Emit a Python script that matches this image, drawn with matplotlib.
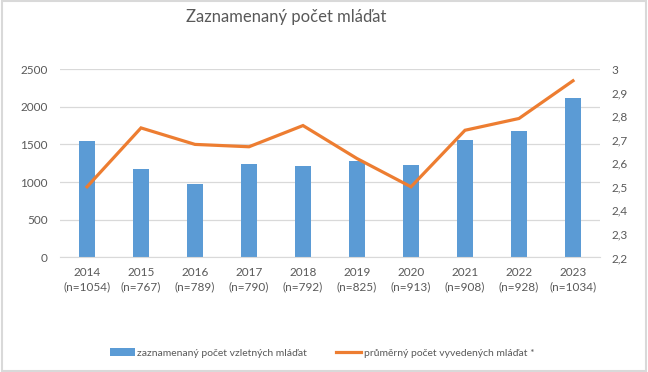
import matplotlib.pyplot as plt
from matplotlib.patches import Rectangle
import numpy as np

years = ['2014', '2015', '2016', '2017', '2018', '2019', '2020', '2021', '2022', '2023']
n_counts = [1054, 767, 789, 790, 792, 825, 913, 908, 928, 1034]
fledged = [1540, 1175, 980, 1240, 1210, 1280, 1225, 1560, 1680, 2110]
avg_young = [2.50, 2.75, 2.68, 2.67, 2.76, 2.62, 2.50, 2.74, 2.79, 2.95]

plt.rcParams['font.family'] = ['Lato', 'DejaVu Sans']
grey_txt = '#595959'

fig = plt.figure(figsize=(6.48, 3.72), dpi=100)
ax = fig.add_axes([0.0926, 0.3078, 0.8333, 0.5067])
ax2 = ax.twinx()

x = np.arange(len(years))
ax.bar(x, fledged, width=0.296, color='#5b9bd5', zorder=2,
       label='zaznamenaný počet vzletných mláďat')
ax2.plot(x, avg_young, color='#ed7d31', linewidth=2.3, zorder=3,
         solid_joinstyle='miter', label='průměrný počet vyvedených mláďat *')

ax.set_xlim(-0.5, len(years) - 0.5)
ax.set_ylim(0, 2500)
ax.set_yticks(range(0, 2501, 500))
ax2.set_ylim(2.2, 3.0)
yt2 = np.round(np.arange(2.2, 3.01, 0.1), 1)
ax2.set_yticks(yt2)
ax2.set_yticklabels([f'{v:g}'.replace('.', ',') for v in yt2])

ax.set_xticks(x)
ax.set_xticklabels([f'{y}\n(n={n})' for y, n in zip(years, n_counts)],
                   linespacing=1.3)

ax.grid(axis='y', color='#d9d9d9', linewidth=0.9, zorder=0)
ax.set_axisbelow(True)
for a in (ax, ax2):
    for s in a.spines.values():
        s.set_visible(False)
    a.tick_params(length=0, colors=grey_txt, labelsize=8.5)
ax.spines['bottom'].set_visible(True)
ax.spines['bottom'].set_color('#d9d9d9')
ax.tick_params(axis='y', pad=9)
ax2.tick_params(axis='y', pad=8)
ax.tick_params(axis='x', pad=7)

fig.text(0.442, 0.954, 'Zaznamenaný počet mláďat', ha='center', va='center',
         fontsize=12, color=grey_txt)

h1, l1 = ax.get_legend_handles_labels()
h2, l2 = ax2.get_legend_handles_labels()
fig.legend(h1 + h2, l1 + l2, loc='center', bbox_to_anchor=(0.497, 0.051),
           ncol=2, frameon=False, fontsize=7.5, labelcolor=grey_txt,
           handlelength=2.4, handletextpad=0.25, columnspacing=2.8)

border = Rectangle((0.003, 0.004), 0.994, 0.992, transform=fig.transFigure,
                   fill=False, edgecolor='#d9d9d9', linewidth=1.5)
fig.patches.append(border)

fig.savefig('out.png', dpi=100, facecolor='white')
